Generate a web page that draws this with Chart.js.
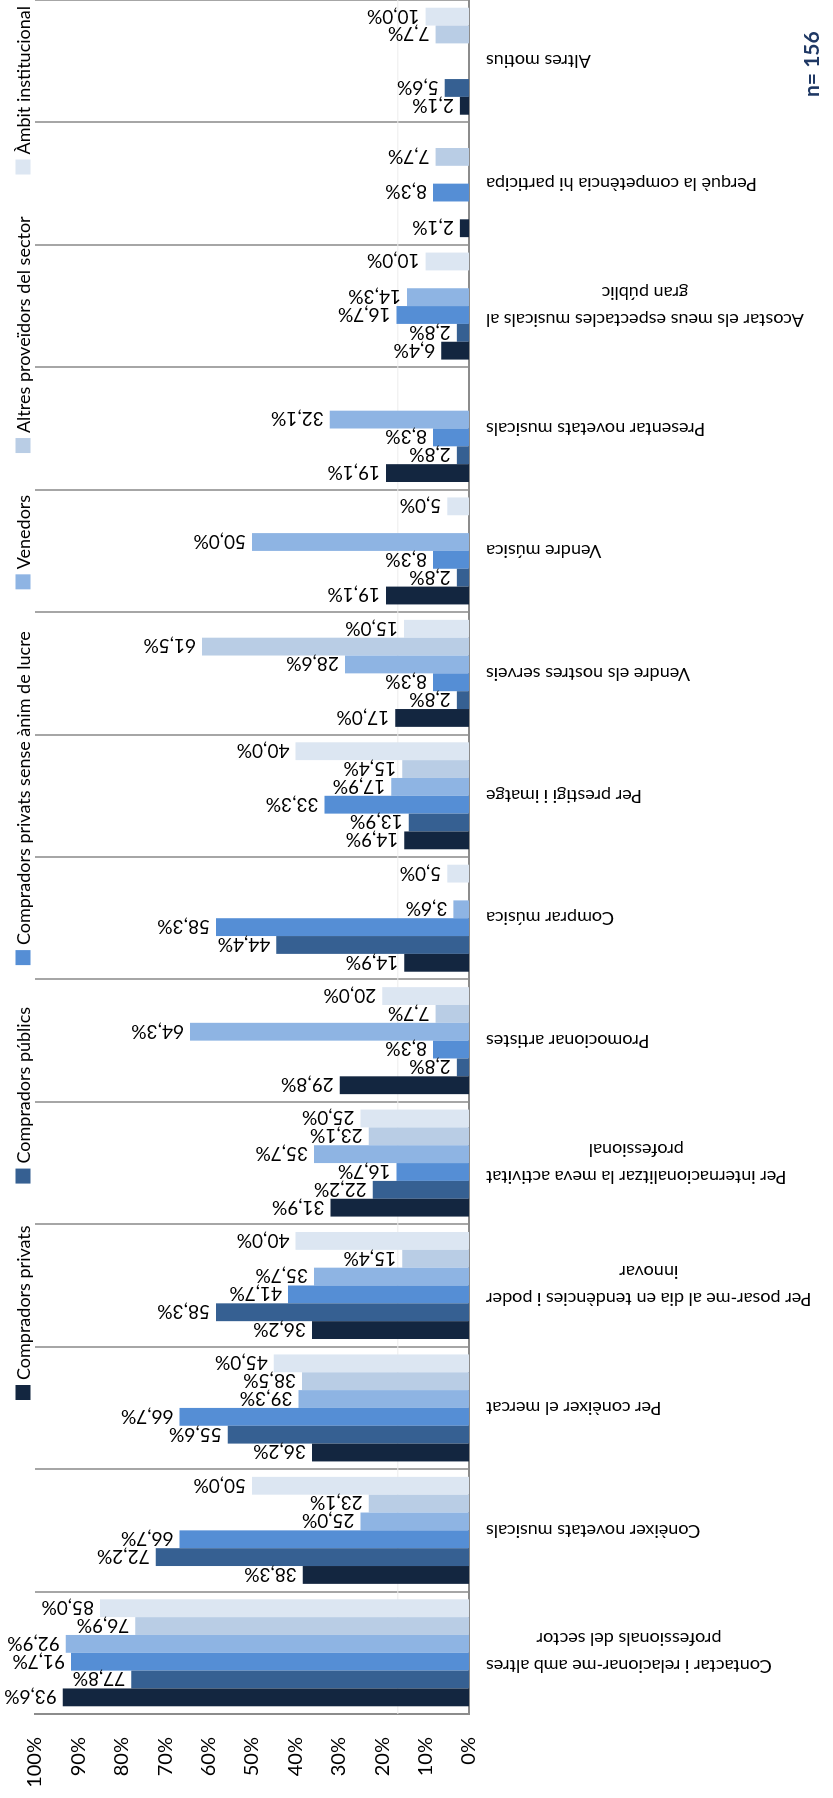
<!DOCTYPE html>
<html>
<head>
<meta charset="utf-8">
<script src="https://cdn.jsdelivr.net/npm/chart.js@4.4.0/dist/chart.umd.min.js"></script>
<style>
  html, body { margin: 0; padding: 0; width: 833px; height: 1798px; overflow: hidden; background: #fff; }
  /* the chart is laid out as a column chart and turned a quarter turn */
  #wrap { position: absolute; left: 0; top: 0; width: 1798px; height: 833px;
          transform-origin: 0 0; transform: translateY(1798px) rotate(-90deg); }
</style>
</head>
<body>
<div id="wrap"><canvas id="chart" width="1798" height="833"></canvas></div>
<script>
const categories = [
  ['Contactar i relacionar-me amb altres', 'professionals del sector'],
  ['Conèixer novetats musicals'],
  ['Per conèixer el mercat'],
  ['Per posar-me al dia en tendències i poder', 'innovar'],
  ['Per internacionalitzar la meva activitat', 'professional'],
  ['Promocionar artistes'],
  ['Comprar música'],
  ['Per prestigi i imatge'],
  ['Vendre els nostres serveis'],
  ['Vendre música'],
  ['Presentar novetats musicals'],
  ['Acostar els meus espectacles musicals al', 'gran públic'],
  ['Perquè la competència hi participa'],
  ['Altres motius']
];

const seriesNames = [
  'Compradors privats',
  'Compradors públics',
  'Compradors privats sense ànim de lucre',
  'Venedors',
  'Altres proveïdors del sector',
  'Àmbit institucional'
];

const privats    = [93.6, 38.3, 36.2, 36.2, 31.9, 29.8, 14.9, 14.9, 17.0, 19.1, 19.1, 6.4, 2.1, 2.1];
const publics    = [77.8, 72.2, 55.6, 58.3, 22.2, 2.8, 44.4, 13.9, 2.8, 2.8, 2.8, 2.8, 0, 5.6];
const senseLucre = [91.7, 66.7, 66.7, 41.7, 16.7, 8.3, 58.3, 33.3, 8.3, 8.3, 8.3, 16.7, 8.3, 0];
const venedors   = [92.9, 25.0, 39.3, 35.7, 35.7, 64.3, 3.6, 17.9, 28.6, 50.0, 32.1, 14.3, 0, 0];
const altresProv = [76.9, 23.1, 38.5, 15.4, 23.1, 7.7, 0, 15.4, 61.5, 0, 0, 0, 7.7, 7.7];
const ambit      = [85.0, 50.0, 45.0, 40.0, 25.0, 20.0, 5.0, 40.0, 15.0, 5.0, 0, 10.0, 0, 10.0];

const sampleSize = 'n= 156';
const guideValue = 16.4;   // faint guide line across the plot

const colors = ['#132640', '#366092', '#558ed5', '#8eb4e3', '#b9cde5', '#dce6f2'];
const FONT = 'Lato, "Open Sans", sans-serif';

const pct = v => v.toFixed(1).replace('.', ',') + '%';

// thin light guide drawn under the bars
const guideLine = {
  id: 'guideLine',
  beforeDatasetsDraw(chart) {
    const { ctx, chartArea: a } = chart;
    const y = chart.scales.y.getPixelForValue(guideValue);
    ctx.save();
    ctx.strokeStyle = '#ededed';
    ctx.lineWidth = 1;
    ctx.beginPath();
    ctx.moveTo(a.left, y);
    ctx.lineTo(a.right, y);
    ctx.stroke();
    ctx.restore();
  }
};

// value printed just past the end of every non-empty bar
const valueLabels = {
  id: 'valueLabels',
  afterDatasetsDraw(chart) {
    const ctx = chart.ctx;
    ctx.save();
    ctx.font = '19px ' + FONT;
    ctx.fillStyle = '#000';
    ctx.textAlign = 'left';
    ctx.textBaseline = 'middle';
    chart.data.datasets.forEach((ds, i) => {
      chart.getDatasetMeta(i).data.forEach((bar, j) => {
        const v = ds.data[j];
        if (!v) return;
        ctx.save();
        ctx.translate(bar.x, bar.y - 6);
        ctx.rotate(-Math.PI / 2);
        ctx.fillText(pct(v), 0, 1);
        ctx.restore();
      });
    });
    ctx.restore();
  }
};

// rotated category names, lines centred inside each block
const categoryLabels = {
  id: 'categoryLabels',
  afterDraw(chart) {
    const ctx = chart.ctx;
    const xs = chart.scales.x;
    const top = chart.chartArea.bottom + 17;
    const lineH = 27;
    ctx.save();
    ctx.font = '18px ' + FONT;
    ctx.fillStyle = '#000';
    ctx.textAlign = 'center';
    ctx.textBaseline = 'middle';
    chart.data.labels.forEach((lines, i) => {
      const x = xs.getPixelForValue(i);
      const w = Math.max(...lines.map(l => ctx.measureText(l).width));
      ctx.save();
      ctx.translate(x, top + w / 2);
      ctx.rotate(-Math.PI / 2);
      lines.forEach((l, k) => ctx.fillText(l, 0, (k - (lines.length - 1) / 2) * lineH));
      ctx.restore();
    });
    ctx.restore();
  }
};

// single-row legend along the top plus the sample size note
const legendRow = {
  id: 'legendRow',
  afterDraw(chart) {
    const ctx = chart.ctx;
    const x0 = 398, x1 = 1792, cy = 23, box = 15, gap = 5;
    ctx.save();
    ctx.font = '18px ' + FONT;
    ctx.textAlign = 'left';
    ctx.textBaseline = 'middle';
    const names = chart.data.datasets.map(d => d.label);
    const widths = names.map(n => ctx.measureText(n).width);
    const used = widths.reduce((a, w) => a + box + gap + w, 0);
    const space = (x1 - x0 - used) / (names.length - 1);
    let x = x0;
    names.forEach((n, i) => {
      ctx.fillStyle = chart.data.datasets[i].backgroundColor;
      ctx.fillRect(x, cy - box / 2, box, box);
      ctx.fillStyle = '#000';
      ctx.fillText(n, x + box + gap, cy + 1);
      x += box + gap + widths[i] + space;
    });

    ctx.font = 'bold 21px ' + FONT;
    ctx.fillStyle = '#1f3864';
    ctx.fillText(sampleSize, 1701, 812);
    ctx.restore();
  }
};

const seriesData = [privats, publics, senseLucre, venedors, altresProv, ambit];

new Chart(document.getElementById('chart'), {
  type: 'bar',
  data: {
    labels: categories,
    datasets: seriesData.map((d, i) => ({
      label: seriesNames[i],
      data: d,
      backgroundColor: colors[i],
      borderWidth: 0,
      categoryPercentage: 0.874,
      barPercentage: 1
    }))
  },
  options: {
    responsive: false,
    animation: false,
    layout: { padding: { top: 35, right: 0, left: 0, bottom: 0 } },
    plugins: { legend: { display: false }, tooltip: { enabled: false } },
    scales: {
      x: {
        grid: { offset: true, color: '#a6a6a6', lineWidth: 2, drawTicks: false },
        border: { display: true, color: '#8c8c8c', width: 2 },
        ticks: { display: false },
        afterFit: s => { s.height = 364; }
      },
      y: {
        min: 0,
        max: 100,
        grid: { display: false, drawTicks: false },
        border: { display: true, color: '#8c8c8c', width: 2 },
        ticks: {
          stepSize: 10,
          padding: 23,
          color: '#000',
          font: { family: FONT, size: 20 },
          callback: v => v + '%'
        },
        afterFit: s => { s.width = 84; }
      }
    }
  },
  plugins: [guideLine, valueLabels, categoryLabels, legendRow]
});
</script>
</body>
</html>
